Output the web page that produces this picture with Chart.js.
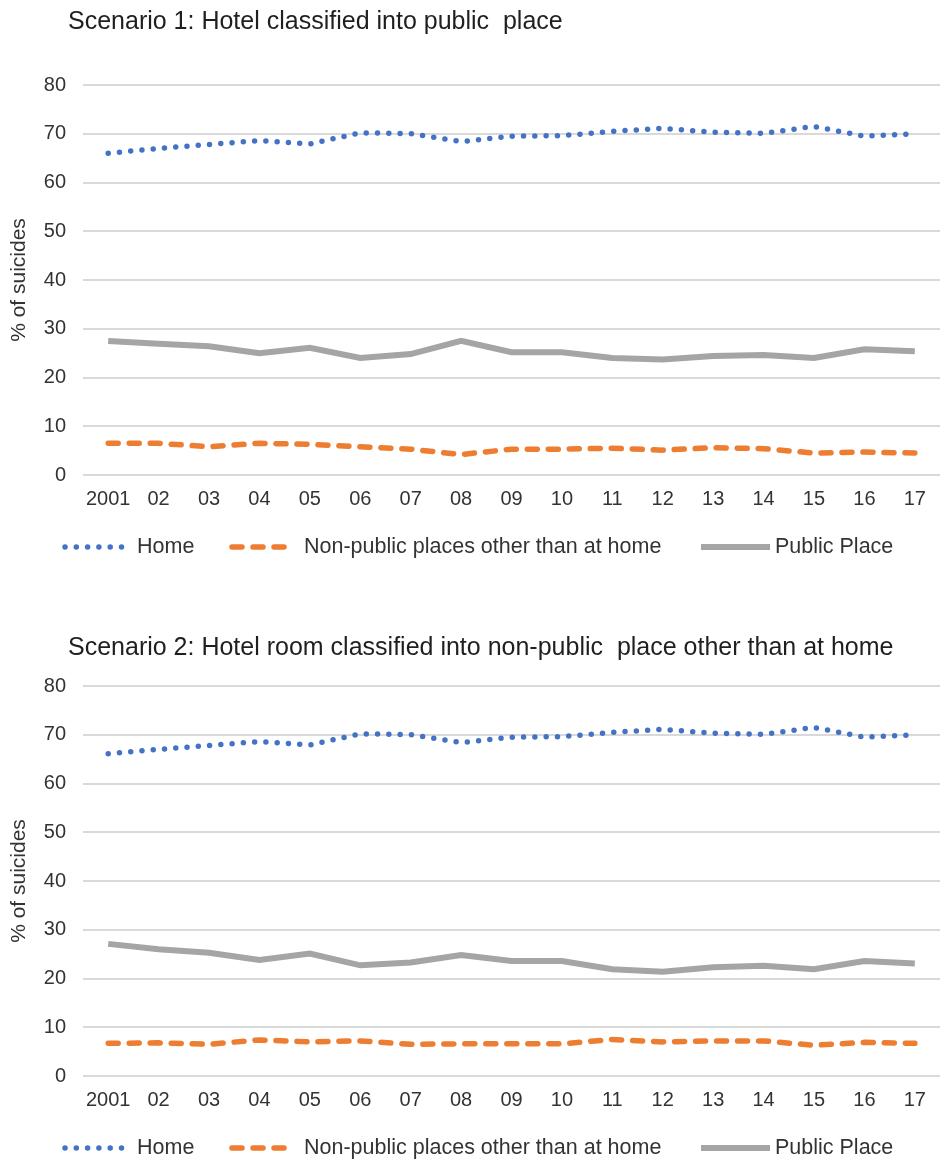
<!DOCTYPE html>
<html lang="en">
<head>
  <meta charset="UTF-8">
  <title>Suicide location by scenario</title>
  <script src="https://cdn.jsdelivr.net/npm/chart.js"></script>
  <style>
    body { margin: 0; background: #fff; width: 940px; height: 1160px; overflow: hidden; position: relative; }
    canvas { position: absolute; left: 0; }
    #c1 { top: 0; }
    #c2 { top: 601px; }
  </style>
</head>
<body>
  <canvas id="c1" width="940" height="559"></canvas>
  <canvas id="c2" width="940" height="559"></canvas>

  <script>
    // values (% of suicides)
    const years = ['2001', '02', '03', '04', '05', '06', '07', '08', '09', '10', '11', '12', '13', '14', '15', '16', '17'];
    const yTicks = [0, 10, 20, 30, 40, 50, 60, 70, 80];

    const home1 = [66.0, 67.0, 67.8, 68.6, 67.9, 70.2, 70.0, 68.4, 69.5, 69.6, 70.5, 71.1, 70.3, 70.1, 71.5, 69.5, 70.0];
    const nonPublic1 = [6.5, 6.5, 5.8, 6.5, 6.3, 5.8, 5.3, 4.2, 5.3, 5.3, 5.5, 5.1, 5.6, 5.4, 4.5, 4.7, 4.5];
    const publicPlace1 = [27.5, 26.9, 26.4, 25.0, 26.1, 24.0, 24.8, 27.5, 25.2, 25.2, 24.0, 23.7, 24.4, 24.6, 24.0, 25.8, 25.4];

    const home2 = [66.1, 67.0, 67.8, 68.6, 67.9, 70.2, 70.0, 68.4, 69.5, 69.6, 70.5, 71.1, 70.3, 70.1, 71.5, 69.5, 70.0];
    const nonPublic2 = [6.7, 6.8, 6.5, 7.4, 7.0, 7.2, 6.5, 6.6, 6.6, 6.6, 7.5, 7.0, 7.2, 7.2, 6.3, 6.9, 6.7];
    const publicPlace2 = [27.1, 26.0, 25.3, 23.8, 25.1, 22.7, 23.3, 24.8, 23.6, 23.6, 21.9, 21.4, 22.3, 22.6, 21.9, 23.6, 23.1];

    const seriesNames = ['Home', 'Non-public places other than at home', 'Public Place'];

    Chart.defaults.font.family = "'Liberation Sans', Arial, sans-serif";
    Chart.defaults.color = '#333333';

    // title and legend drawn by hand so the dotted / dashed samples look right
    const decor = {
      id: 'decor',
      afterDraw(chart, args, opts) {
        const ctx = chart.ctx;
        ctx.save();
        ctx.fillStyle = '#1f1f1f';
        ctx.font = "25px 'Liberation Sans', Arial, sans-serif";
        ctx.textBaseline = 'middle';
        ctx.fillText(opts.title, 68, opts.titleY);

        const spots = [[65, 127, 137], [232, 295, 304], [701, 770, 775]];
        const y = opts.legendY;
        chart.data.datasets.forEach((ds, i) => {
          const s = spots[i];
          ctx.strokeStyle = ds.borderColor;
          ctx.lineWidth = ds.borderWidth;
          ctx.lineCap = ds.borderCapStyle || 'butt';
          ctx.setLineDash(ds.borderDash || []);
          ctx.beginPath();
          ctx.moveTo(s[0], y);
          ctx.lineTo(s[1], y);
          ctx.stroke();
          ctx.setLineDash([]);
          ctx.fillStyle = '#333333';
          ctx.font = "21.5px 'Liberation Sans', Arial, sans-serif";
          ctx.fillText(ds.label, s[2], y);
        });
        ctx.restore();
      }
    };

    function makeChart(id, title, titleY, home, nonPublic, publicPlace) {
      return new Chart(document.getElementById(id).getContext('2d'), {
        type: 'line',
        data: {
          labels: years,
          datasets: [
            {
              label: seriesNames[0],
              data: home,
              borderColor: '#4472C4',
              borderWidth: 5.5,
              borderDash: [0, 11.3],
              borderCapStyle: 'round',
              pointRadius: 0,
              tension: 0
            },
            {
              label: seriesNames[1],
              data: nonPublic,
              borderColor: '#ED7D31',
              borderWidth: 5.5,
              borderDash: [10, 11],
              borderCapStyle: 'round',
              pointRadius: 0,
              tension: 0
            },
            {
              label: seriesNames[2],
              data: publicPlace,
              borderColor: '#A5A5A5',
              borderWidth: 6,
              pointRadius: 0,
              tension: 0
            }
          ]
        },
        options: {
          responsive: false,
          animation: false,
          layout: { padding: { top: 85, right: 0, left: 0, bottom: 0 } },
          plugins: {
            legend: { display: false },
            tooltip: { enabled: false },
            decor: { title, titleY, legendY: 547 }
          },
          scales: {
            x: {
              offset: true,
              grid: { display: false, drawTicks: false },
              border: { display: false },
              ticks: { font: { size: 20 }, padding: 12, maxRotation: 0, autoSkip: false },
              afterFit(scale) { scale.height = 84; }
            },
            y: {
              min: 0,
              max: 80,
              afterBuildTicks(scale) { scale.ticks = yTicks.map(v => ({ value: v })); },
              grid: { color: '#D9D9D9', lineWidth: 2, drawTicks: false },
              border: { display: false },
              ticks: { font: { size: 20 }, padding: 17 },
              title: {
                display: true,
                text: '% of suicides',
                font: { size: 21 },
                padding: { top: 7, bottom: 0 }
              },
              afterFit(scale) { scale.width = 83; }
            }
          }
        },
        plugins: [decor]
      });
    }

    makeChart('c1', 'Scenario 1: Hotel classified into public  place', 22, home1, nonPublic1, publicPlace1);
    makeChart('c2', 'Scenario 2: Hotel room classified into non-public  place other than at home', 47, home2, nonPublic2, publicPlace2);
  </script>
</body>
</html>
